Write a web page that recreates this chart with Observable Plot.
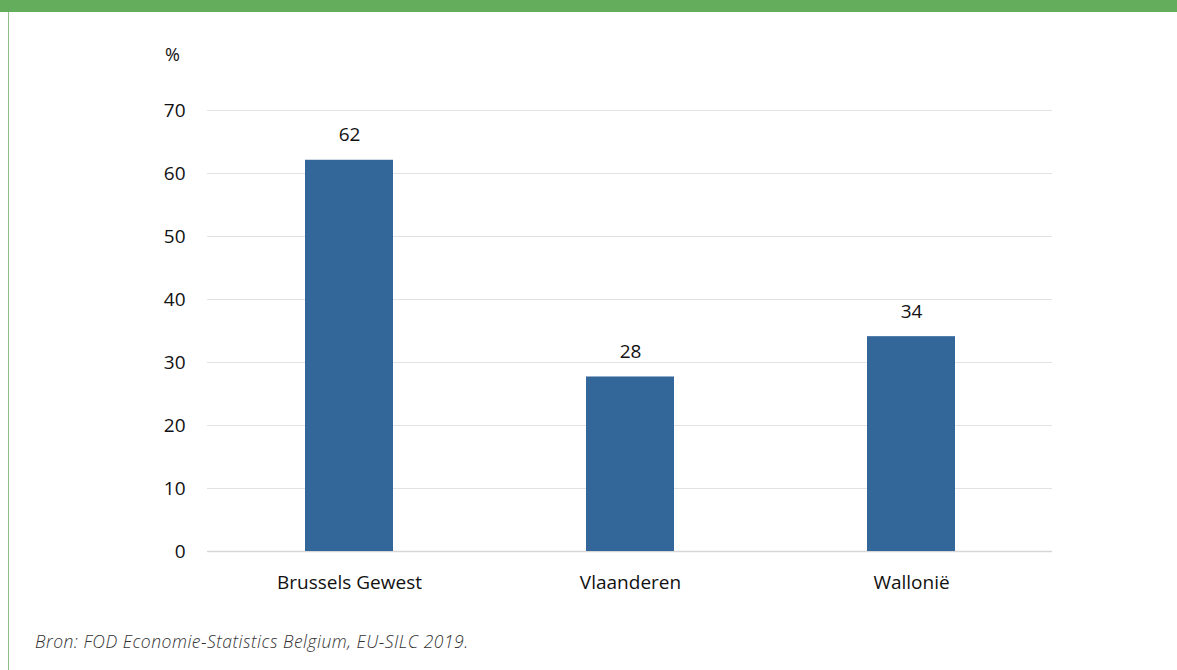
<!DOCTYPE html>
<html>
<head>
<meta charset="utf-8">
<script src="https://cdn.jsdelivr.net/npm/d3@7"></script>
<script src="https://cdn.jsdelivr.net/npm/@observablehq/plot@0.6"></script>
<style>
  html, body { margin: 0; padding: 0; background: #fff; }
  #page { position: relative; width: 1177px; height: 670px; overflow: hidden; font-family: "Open Sans", sans-serif; }
  #topbar { position: absolute; left: 0; top: 0; width: 1177px; height: 12px; background: #64ad5d; }
  #leftline { position: absolute; left: 8px; top: 12px; width: 1px; height: 658px; background: #8dbf86; }
  #chart { position: absolute; left: 0; top: 0; }
  #unit { position: absolute; left: 165px; top: 42px; font-size: 18px; color: #111; }
  #caption { position: absolute; left: 35px; top: 629px; font-size: 17.5px; letter-spacing: 0.5px; font-style: italic; font-weight: 300; color: #333; }
</style>
</head>
<body>
<div id="page">
  <div id="topbar"></div>
  <div id="leftline"></div>
  <div id="chart"></div>
  <div id="unit">%</div>
  <div id="caption">Bron: FOD Economie-Statistics Belgium, EU-SILC 2019.</div>
</div>
<script>
const regions = ["Brussels Gewest", "Vlaanderen", "Wallonië"];
const values = [62.1, 27.7, 34.1];
const labels = ["62", "28", "34"];
const yTicks = [0, 10, 20, 30, 40, 50, 60, 70];

const data = regions.map((r, i) => ({region: r, value: values[i], label: labels[i]}));

const chart = Plot.plot({
  width: 1177,
  height: 600,
  marginLeft: 207,
  marginRight: 125,
  marginTop: 110,
  marginBottom: 49,
  style: {fontFamily: "'Open Sans', sans-serif", fontSize: "19px", color: "#111", background: "transparent"},
  x: {domain: regions, paddingInner: 0.688, paddingOuter: 0.344, label: null},
  y: {domain: [0, 70], label: null},
  marks: [
    Plot.gridY(yTicks.filter(d => d > 0), {stroke: "#e2e2e2", strokeOpacity: 1, strokeWidth: 1}),
    Plot.ruleY([0], {stroke: "#d6d6d6", strokeWidth: 1.5}),
    Plot.barY(data, {x: "region", y: "value", fill: "#336699"}),
    Plot.text(data, {x: "region", y: "value", text: "label", dy: -25, fontSize: 19, fill: "#111"}),
    Plot.axisY({ticks: yTicks, tickSize: 0, tickPadding: 22, fontSize: 19, label: null}),
    Plot.axisX({tickSize: 0, tickPadding: 24, fontSize: 19, label: null})
  ]
});
document.getElementById("chart").appendChild(chart);
</script>
</body>
</html>
